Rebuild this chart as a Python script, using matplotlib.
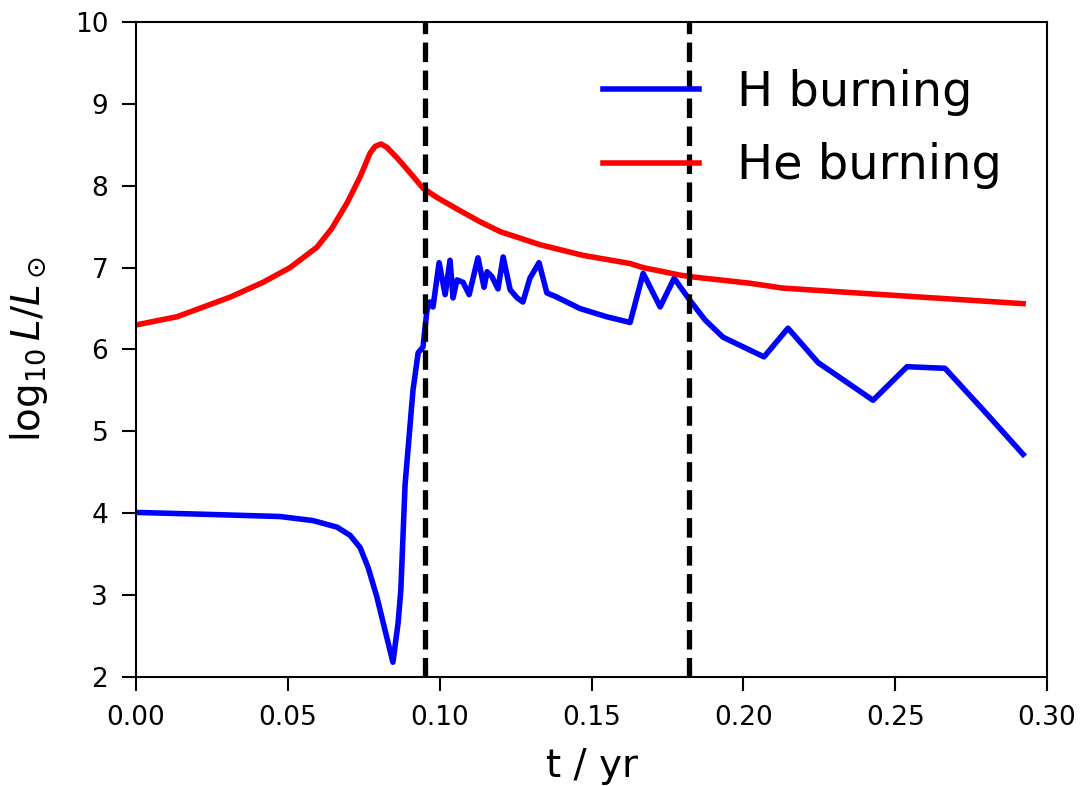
import numpy as np
import matplotlib
matplotlib.use('Agg')
from matplotlib import pyplot as plt

# H burning luminosity
t_h = [0.0, 0.020, 0.0474, 0.0583, 0.0662, 0.0705, 0.0738, 0.0764, 0.0793, 0.082,
       0.0846, 0.0863, 0.0872, 0.0886,
       0.0912, 0.0929, 0.0945, 0.0958, 0.0968, 0.0978, 0.0998, 0.1018, 0.1034, 0.1044,
       0.1057, 0.1077, 0.1097, 0.1126, 0.1146, 0.1156, 0.1172, 0.1192, 0.1209, 0.1232,
       0.1255, 0.1274, 0.1297, 0.1327, 0.1353, 0.138, 0.1462, 0.1550, 0.1627, 0.167,
       0.1726, 0.1772, 0.1824, 0.1874, 0.1933, 0.2068, 0.2147, 0.2246, 0.2427, 0.2539,
       0.2664, 0.280, 0.2921]
logL_h = [4.01, 3.99, 3.96, 3.91, 3.83, 3.73, 3.58, 3.34, 2.98, 2.57,
          2.18, 2.66, 3.06, 4.35,
          5.5, 5.96, 6.03, 6.48, 6.58, 6.52, 7.06, 6.67, 7.09, 6.63,
          6.85, 6.82, 6.67, 7.12, 6.76, 6.95, 6.89, 6.74, 7.13, 6.73,
          6.63, 6.58, 6.87, 7.06, 6.69, 6.65, 6.50, 6.40, 6.33, 6.93,
          6.52, 6.87, 6.60, 6.36, 6.15, 5.91, 6.26, 5.84, 5.38, 5.79,
          5.77, 5.22, 4.72]

# He burning luminosity
t_he = [0.0, 0.0135, 0.031, 0.0418, 0.0507, 0.055, 0.0596, 0.0645, 0.0695, 0.0738,
        0.0771, 0.0787, 0.0807, 0.0826, 0.086, 0.0902, 0.0945, 0.0994, 0.1060, 0.1133,
        0.1199, 0.133, 0.1472, 0.1627, 0.167, 0.179, 0.1824, 0.202, 0.213, 0.246, 0.2921]
logL_he = [6.30, 6.40, 6.64, 6.82, 7.0, 7.12, 7.25, 7.48, 7.79, 8.11,
           8.40, 8.48, 8.51, 8.47, 8.34, 8.16, 7.97, 7.85, 7.71, 7.56,
           7.44, 7.28, 7.15, 7.05, 7.0, 6.91, 6.89, 6.81, 6.75, 6.67, 6.56]

# vertical markers
t_marks = [0.095, 0.182]

fig = plt.figure(figsize=(10.83, 7.86), dpi=100)
ax = fig.add_axes([0.1256, 0.1387, 0.8412, 0.8333])

ax.plot(t_h, logL_h, color='blue', lw=4, label='H burning')
ax.plot(t_he, logL_he, color='red', lw=4, label='He burning')
for tm in t_marks:
    ax.axvline(tm, color='black', ls='--', lw=3.8)

ax.set_xlim(0, 0.30)
ax.set_ylim(2, 10)
ax.set_xticks(np.arange(0, 0.301, 0.05))
ax.set_yticks(range(2, 11))
ax.tick_params(labelsize=19, length=10, width=1.5, pad=10)
for sp in ax.spines.values():
    sp.set_linewidth(1.5)

ax.set_xlabel('t / yr', fontsize=28, labelpad=12)
ax.set_ylabel(r'$\log_{10}L/L_\odot$', fontsize=28, labelpad=18)

ax.legend(loc='upper right', fontsize=34.5, frameon=False, labelspacing=0.55,
          bbox_to_anchor=(0.998, 0.994))

fig.savefig('out.png', dpi=100)
